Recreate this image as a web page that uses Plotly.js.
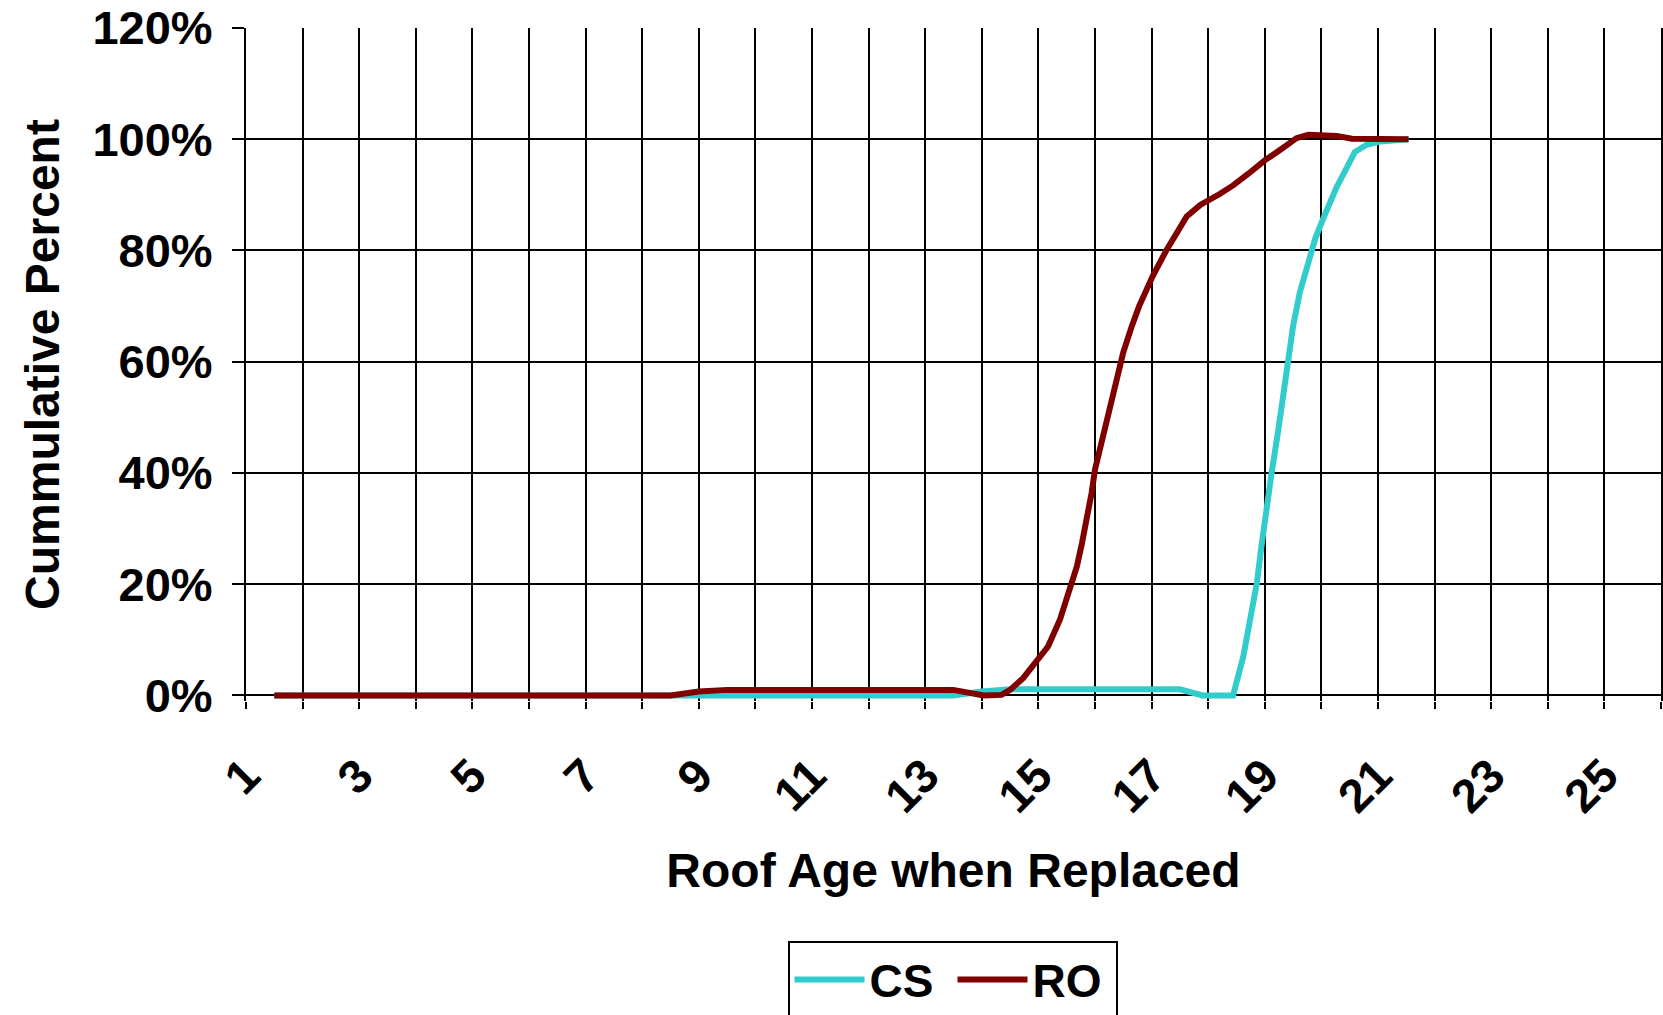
<!DOCTYPE html>
<html><head><meta charset="utf-8">
<script src="https://cdn.plot.ly/plotly-3.0.1.min.js"></script>
<style>html,body{margin:0;padding:0;background:#fff}</style>
</head><body>
<div id="chart" style="width:1663px;height:1015px"></div>
<script>
// Roof age (years) and cumulative percent
const roAge = [1.5, 8.5, 9.0, 9.5, 13.5, 13.75, 14.03, 14.35, 14.5, 14.73, 15.0, 15.17, 15.38, 15.56, 15.68, 15.77, 15.88, 15.94, 16.0, 16.12, 16.24, 16.38, 16.5, 16.65, 16.78, 17.02, 17.27, 17.62, 17.86, 18.21, 18.44, 18.71, 19.0, 19.3, 19.56, 19.77, 20.03, 20.27, 20.54, 21.54];
const roPct = [0, 0, 0.7, 1.0, 1.0, 0.6, 0, 0.1, 1.0, 3.1, 6.4, 8.8, 13.6, 19.0, 23.2, 27.4, 32.8, 36.4, 40.6, 45.4, 50.8, 56.8, 61.7, 66.4, 70.0, 75.4, 80.2, 86.1, 88.2, 90.2, 91.7, 93.8, 96.2, 98.3, 100.2, 100.8, 100.6, 100.6, 100.1, 100];
const csAge = [1.5, 13.5, 14.0, 14.5, 17.5, 17.9, 18.44, 18.62, 18.74, 18.86, 18.94, 19.03, 19.12, 19.24, 19.39, 19.5, 19.62, 19.77, 19.89, 20.03, 20.27, 20.44, 20.59, 20.8, 21.04, 21.54];
const csPct = [0, 0, 0.7, 1.1, 1.1, 0, 0, 7.0, 13.6, 20.2, 26.8, 34.0, 40.0, 47.8, 58.0, 66.4, 72.5, 77.9, 82.1, 85.7, 91.4, 94.7, 97.7, 99.0, 99.6, 100];

const seriesNames = ['CS', 'RO'];
const ageTicks = [1,2,3,4,5,6,7,8,9,10,11,12,13,14,15,16,17,18,19,20,21,22,23,24,25,26];
const ageLabels = ['1','','3','','5','','7','','9','','11','','13','','15','','17','','19','','21','','23','','25',''];
const pctTicks = [0, 20, 40, 60, 80, 100, 120];
const pctLabels = ['0%', '20%', '40%', '60%', '80%', '100%', '120%'];

const FONT = '"Liberation Sans", Arial, Helvetica, sans-serif';

const traces = [
  {x: csAge, y: csPct, name: seriesNames[0], type: 'scatter', mode: 'lines',
   line: {color: '#33CCCC', width: 6}},
  {x: roAge, y: roPct, name: seriesNames[1], type: 'scatter', mode: 'lines',
   line: {color: '#800000', width: 6}}
];

const layout = {
  width: 1663, height: 1015,
  margin: {l: 246, r: 2, t: 28, b: 314, autoexpand: false},
  paper_bgcolor: 'white', plot_bgcolor: 'white',
  font: {family: FONT, size: 46, color: 'black', weight: 'bold'},
  showlegend: true,
  legend: {orientation: 'h', x: 0.4993, xanchor: 'center', y: -0.3566, yanchor: 'top',
           bordercolor: 'black', borderwidth: 2, bgcolor: 'white',
           font: {family: FONT, size: 46, color: 'black', weight: 'bold'},
           itemwidth: 70, entrywidth: 78},
  xaxis: {
    range: [1, 26], tickmode: 'array', tickvals: ageTicks, ticktext: ageLabels,
    tickangle: -45, ticks: 'outside', ticklen: 7, tickwidth: 2, tickcolor: 'black',
    ticklabelstandoff: 20,
    showgrid: true, gridcolor: 'black', gridwidth: 2, zeroline: false, showline: false,
    tickfont: {family: FONT, size: 47, color: 'black', weight: 'bold'},
    title: {text: 'Roof Age when Replaced', font: {family: FONT, size: 48, color: 'black', weight: 'bold'}, standoff: 31},
    automargin: false, fixedrange: true
  },
  yaxis: {
    range: [-1, 120], tickmode: 'array', tickvals: pctTicks, ticktext: pctLabels,
    ticks: 'outside', ticklen: 12, tickwidth: 2, tickcolor: 'black',
    ticklabelstandoff: 10,
    showgrid: true, gridcolor: 'black', gridwidth: 2,
    zeroline: true, zerolinecolor: 'black', zerolinewidth: 2,
    showline: true, linecolor: 'black', linewidth: 2, mirror: true,
    tickfont: {family: FONT, size: 47, color: 'black', weight: 'bold'},
    title: {text: 'Cummulative Percent', font: {family: FONT, size: 48, color: 'black', weight: 'bold'}, standoff: 18},
    automargin: false, fixedrange: true
  }
};

Plotly.newPlot('chart', traces, layout, {displayModeBar: false, staticPlot: true});
</script>
</body></html>
